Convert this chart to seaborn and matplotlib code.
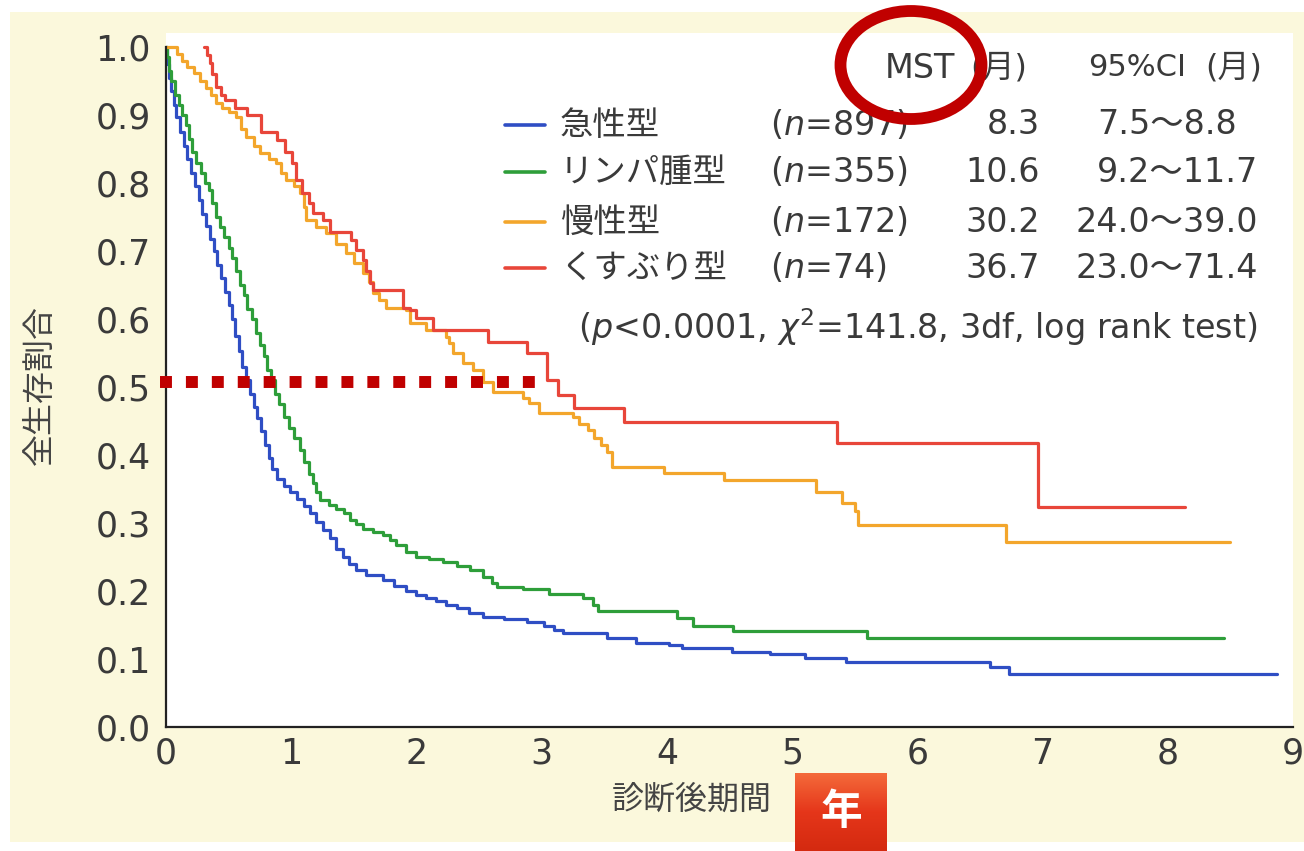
import numpy as np
import pandas as pd
import matplotlib
matplotlib.use("Agg")
import matplotlib.pyplot as plt
import seaborn as sns
from matplotlib.patches import Ellipse, Rectangle
from matplotlib.lines import Line2D

# ---------------- data ----------------
groups = ["急性型", "リンパ腫型", "慢性型", "くすぶり型"]
n_labels = ["897", "355", "172", "74"]
mst_labels = ["8.3", "10.6", "30.2", "36.7"]
ci_labels = ["7.5〜8.8", "9.2〜11.7", "24.0〜39.0", "23.0〜71.4"]
colors = ["#2f4ec4", "#2e9e3a", "#f3a62c", "#e8463a"]

acute_t = [0, 0.01, 0.02, 0.04, 0.06, 0.08, 0.11, 0.14, 0.17, 0.20, 0.23, 0.26, 0.29, 0.32, 0.35,
           0.38, 0.41, 0.44, 0.47, 0.50, 0.53, 0.555, 0.58, 0.61, 0.64, 0.67, 0.70, 0.73, 0.76,
           0.79, 0.82, 0.85, 0.89, 0.94, 0.99, 1.05, 1.10, 1.15, 1.20, 1.25, 1.31, 1.36, 1.41,
           1.46, 1.52, 1.60, 1.73, 1.82, 1.92, 2.00, 2.08, 2.16, 2.24, 2.32, 2.42, 2.53, 2.70,
           2.88, 3.02, 3.10, 3.17, 3.52, 3.75, 4.02, 4.12, 4.52, 4.82, 5.10, 5.43, 6.58, 6.73, 8.87]
acute_s = [1.0, 0.975, 0.955, 0.935, 0.915, 0.897, 0.875, 0.855, 0.835, 0.815, 0.795, 0.775, 0.755,
           0.737, 0.718, 0.70, 0.68, 0.66, 0.64, 0.62, 0.60, 0.575, 0.553, 0.53, 0.51, 0.49, 0.47,
           0.455, 0.435, 0.415, 0.395, 0.38, 0.365, 0.355, 0.345, 0.335, 0.325, 0.315, 0.302,
           0.29, 0.278, 0.262, 0.25, 0.24, 0.231, 0.224, 0.216, 0.208, 0.20, 0.194, 0.19, 0.185,
           0.18, 0.175, 0.168, 0.162, 0.159, 0.154, 0.148, 0.143, 0.138, 0.131, 0.124, 0.12,
           0.116, 0.11, 0.107, 0.101, 0.095, 0.088, 0.078, 0.078]

lymph_t = [0, 0.01, 0.02, 0.04, 0.07, 0.10, 0.13, 0.16, 0.18, 0.21, 0.24, 0.28, 0.31, 0.34, 0.37,
           0.40, 0.43, 0.46, 0.50, 0.53, 0.56, 0.59, 0.62, 0.65, 0.69, 0.72, 0.75, 0.78, 0.81,
           0.84, 0.87, 0.90, 0.94, 0.98, 1.02, 1.07, 1.10, 1.14, 1.17, 1.20, 1.23, 1.30, 1.36,
           1.42, 1.47, 1.52, 1.57, 1.65, 1.73, 1.79, 1.84, 1.92, 2.00, 2.10, 2.21, 2.32, 2.43,
           2.53, 2.60, 2.64, 2.85, 3.06, 3.33, 3.41, 3.45, 4.08, 4.21, 4.53, 5.60, 8.45]
lymph_s = [1.0, 0.985, 0.965, 0.95, 0.93, 0.915, 0.90, 0.885, 0.865, 0.845, 0.83, 0.815, 0.80,
           0.79, 0.77, 0.75, 0.735, 0.72, 0.705, 0.69, 0.67, 0.65, 0.635, 0.615, 0.60, 0.58,
           0.562, 0.545, 0.525, 0.51, 0.49, 0.475, 0.456, 0.44, 0.425, 0.407, 0.39, 0.372,
           0.359, 0.345, 0.334, 0.326, 0.32, 0.314, 0.305, 0.298, 0.291, 0.287, 0.282, 0.275,
           0.268, 0.258, 0.25, 0.247, 0.243, 0.237, 0.231, 0.221, 0.212, 0.206, 0.203, 0.195,
           0.19, 0.179, 0.171, 0.16, 0.149, 0.141, 0.131, 0.131]

chronic_t = [0, 0.09, 0.13, 0.17, 0.22, 0.27, 0.32, 0.36, 0.40, 0.45, 0.50, 0.56, 0.60, 0.64,
             0.70, 0.75, 0.82, 0.88, 0.92, 0.96, 1.02, 1.07, 1.10, 1.12, 1.20, 1.28, 1.36, 1.44,
             1.50, 1.57, 1.62, 1.65, 1.70, 1.76, 1.92, 1.95, 2.08, 2.24, 2.26, 2.29, 2.37, 2.45,
             2.53, 2.61, 2.85, 2.90, 2.98, 3.25, 3.30, 3.37, 3.42, 3.47, 3.52, 3.56, 3.98, 4.46,
             5.19, 5.40, 5.50, 5.53, 6.71, 8.50]
chronic_s = [1.0, 0.99, 0.98, 0.97, 0.962, 0.95, 0.94, 0.93, 0.918, 0.91, 0.905, 0.897, 0.88,
             0.868, 0.855, 0.844, 0.836, 0.829, 0.815, 0.804, 0.795, 0.785, 0.765, 0.746, 0.735,
             0.726, 0.71, 0.697, 0.682, 0.668, 0.655, 0.638, 0.628, 0.616, 0.613, 0.594, 0.584,
             0.574, 0.565, 0.55, 0.535, 0.525, 0.507, 0.493, 0.484, 0.476, 0.462, 0.456, 0.445,
             0.437, 0.425, 0.415, 0.404, 0.382, 0.373, 0.363, 0.346, 0.33, 0.318, 0.297, 0.272,
             0.272]

smold_t = [0.30, 0.33, 0.35, 0.37, 0.40, 0.44, 0.47, 0.55, 0.65, 0.76, 0.89, 0.95, 1.01, 1.04,
           1.09, 1.14, 1.17, 1.25, 1.31, 1.48, 1.52, 1.57, 1.60, 1.63, 1.65, 1.89, 1.95, 2.00,
           2.13, 2.57, 2.88, 3.04, 3.13, 3.26, 3.66, 5.36, 6.96, 8.14]
smold_s = [1.0, 0.988, 0.976, 0.96, 0.941, 0.93, 0.922, 0.91, 0.90, 0.875, 0.863, 0.846, 0.829,
           0.804, 0.785, 0.77, 0.756, 0.746, 0.728, 0.716, 0.701, 0.687, 0.67, 0.653, 0.643,
           0.616, 0.613, 0.601, 0.584, 0.566, 0.55, 0.51, 0.488, 0.469, 0.449, 0.418, 0.324,
           0.324]

x_ticks = [0, 1, 2, 3, 4, 5, 6, 7, 8, 9]
y_ticks = [0.0, 0.1, 0.2, 0.3, 0.4, 0.5, 0.6, 0.7, 0.8, 0.9, 1.0]
y_tick_labels = ["0.0", "0.1", "0.2", "0.3", "0.4", "0.5", "0.6", "0.7", "0.8", "0.9", "1.0"]
median_marker_y = 0.508
median_marker_x_end = 3.02

series_t = [acute_t, lymph_t, chronic_t, smold_t]
series_s = [acute_s, lymph_s, chronic_s, smold_s]
df = pd.concat(
    [pd.DataFrame({"t": t, "s": s, "group": g}) for t, s, g in zip(series_t, series_s, groups)],
    ignore_index=True,
)

# ---------------- style ----------------
sns.set_theme(style="white")
FAM = ["Noto Sans CJK JP", "DejaVu Sans"]
LAT = ["DejaVu Sans", "Noto Sans CJK JP"]
plt.rcParams["font.family"] = FAM
plt.rcParams["mathtext.fontset"] = "dejavusans"
TXT = "#3a3a3a"

W, H = 1304, 851
fig = plt.figure(figsize=(W / 100, H / 100), dpi=100, facecolor="white")

# cream scanned-page background
fig.patches.append(Rectangle((10 / W, 1 - 842 / H), (W - 10) / W, (842 - 12) / H,
                             transform=fig.transFigure, facecolor="#fbf8dc",
                             edgecolor="none", zorder=-10))

ax = fig.add_axes([166 / W, 1 - 727 / H, 1127 / W, 694 / H])
ax.set_facecolor("white")

sns.lineplot(data=df, x="t", y="s", hue="group", hue_order=groups, palette=colors,
             estimator=None, sort=False, drawstyle="steps-post", linewidth=2.3,
             legend=False, ax=ax)

ax.set_xlim(0, 9)
ax.set_ylim(0, 1.0206)
for side in ["top", "right"]:
    ax.spines[side].set_visible(False)
for side in ["left", "bottom"]:
    ax.spines[side].set_color("#222222")
    ax.spines[side].set_linewidth(1.6)
ax.spines["left"].set_bounds(0, 1.0)

ax.set_xticks(x_ticks)
ax.set_xticklabels([str(v) for v in x_ticks])
ax.set_yticks(y_ticks)
ax.set_yticklabels(y_tick_labels)
ax.tick_params(axis="both", direction="in", length=9, width=1.1, color="#333333",
               labelsize=25, labelcolor=TXT)
ax.tick_params(axis="y", pad=11)
ax.tick_params(axis="x", pad=7)
for lab in ax.get_xticklabels() + ax.get_yticklabels():
    lab.set_family(LAT)
ax.set_xlabel("")
ax.set_ylabel("")


def ftext(x, y, s, **kw):
    kw.setdefault("color", TXT)
    kw.setdefault("family", FAM)
    kw.setdefault("va", "center")
    return fig.text(x / W, 1 - y / H, s, **kw)


# axis labels
ftext(40, 385, "全生存割合", rotation=90, ha="center", fontsize=23, color="#444444")
ftext(692, 800, "診断後期間", ha="center", fontsize=23, color="#444444")

# legend table header
ftext(885, 68, "MST", ha="left", fontsize=24, family=LAT)
ftext(970, 68, "(月)", ha="left", fontsize=23, family=LAT)
ftext(1088, 68, "95%CI", ha="left", fontsize=22, family=LAT)
ftext(1262, 68, "(月)", ha="right", fontsize=23, family=LAT)

row_y = [125, 172, 222, 268]
ci_right = [1237, 1258, 1258, 1258]
for i in range(4):
    y = row_y[i]
    fig.lines.append(Line2D([505 / W, 545 / W], [1 - y / H, 1 - y / H],
                            transform=fig.transFigure, color=colors[i], linewidth=2.6))
    ftext(560, y, groups[i], ha="left", fontsize=24)
    ftext(770, y, "($n$=" + n_labels[i] + ")", ha="left", fontsize=24, family=LAT)
    ftext(1040, y, mst_labels[i], ha="right", fontsize=24, family=LAT)
    ftext(ci_right[i], y, ci_labels[i], ha="right", fontsize=24, family=LAT)

ftext(578, 327, r"($p$<0.0001, $\chi^{2}$=141.8, 3df, log rank test)", ha="left",
      fontsize=24, family=LAT)

# highlight annotations
ax.plot([-0.05, median_marker_x_end], [median_marker_y, median_marker_y], color="#c00000",
        linewidth=8.6, linestyle=(0, (1.0, 1.17)), dash_capstyle="butt", clip_on=False,
        zorder=5)

fig.patches.append(Ellipse((911 / W, 1 - 65 / H), 141 / W, 108 / H, transform=fig.transFigure,
                           facecolor="none", edgecolor="#c00000", linewidth=8.5, zorder=10))

# "年" badge with gradient
bax = fig.add_axes([795 / W, 0, 92 / W, (851 - 773) / H])
grad = np.linspace(0, 1, 100)[:, None]
cmap = matplotlib.colors.LinearSegmentedColormap.from_list("badge", ["#f46a3a", "#e5361a", "#d42a10"])
bax.imshow(grad, aspect="auto", cmap=cmap, extent=[0, 1, 0, 1])
bax.set_axis_off()
bax.text(0.5, 0.5, "年", ha="center", va="center", color="white", fontsize=30,
         fontweight="bold", family=FAM, transform=bax.transAxes)

fig.savefig("out.png", dpi=100, facecolor="white")
